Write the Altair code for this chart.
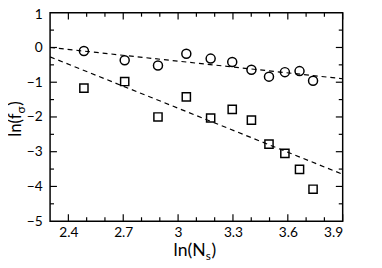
import altair as alt
import pandas as pd

# ---- data ----
ln_ns = [2.485, 2.708, 2.890, 3.045, 3.178, 3.296, 3.401, 3.497, 3.584, 3.664, 3.738]
circles = [-0.10, -0.37, -0.52, -0.18, -0.32, -0.42, -0.64, -0.84, -0.71, -0.68, -0.96]
squares = [-1.17, -0.98, -2.00, -1.42, -2.03, -1.78, -2.09, -2.78, -3.05, -3.51, -4.08]

fit_x = [2.3, 3.9]
fit_circle = [0.0, -0.90]
fit_square = [-0.27, -3.65]

x_major = [2.4, 2.7, 3.0, 3.3, 3.6, 3.9]
x_minor = [2.5, 2.6, 2.8, 2.9, 3.1, 3.2, 3.4, 3.5, 3.7, 3.8]
y_major = [-4, -3, -2, -1, 0]
y_labels = [-5, -4, -3, -2, -1, 0, 1]
y_minor = [-4.5, -3.5, -2.5, -1.5, -0.5, 0.5]

FONT = "Lato"
W, H = 299, 213

xs = alt.Scale(domain=[2.3, 3.9], nice=False, zero=False)
ys = alt.Scale(domain=[-5, 1], nice=False, zero=False)

pts = pd.DataFrame({"x": ln_ns, "c": circles, "s": squares})
fits = pd.DataFrame({"x": fit_x * 2,
                     "y": fit_circle + fit_square,
                     "g": ["circle"] * 2 + ["square"] * 2})

x_axis = alt.Axis(values=x_major, format="~g", title=None, ticks=False, domain=False,
                  grid=False, labelFont=FONT, labelFontSize=14, labelColor="black",
                  labelPadding=5, labelOverlap=False)
y_axis = alt.Axis(values=y_labels, format="d", title=None, ticks=False, domain=False,
                  grid=False, labelFont=FONT, labelFontSize=14, labelColor="black",
                  labelPadding=8, labelOverlap=False, labelFlush=False,
                  labelOffset={"condition": {"test": "datum.value == 1", "value": 2},
                               "value": 0})

def X(f):
    return alt.X(f, scale=xs, axis=x_axis)

def Y(f):
    return alt.Y(f, scale=ys, axis=y_axis)

lines = alt.Chart(fits).mark_line(color="black", strokeDash=[5, 4], strokeWidth=1.2).encode(
    x=X("x:Q"), y=Y("y:Q"), detail="g:N")

circ = alt.Chart(pts).mark_point(shape="circle", filled=False, color="black",
                                 size=85, strokeWidth=1.5, opacity=1).encode(
    x=X("x:Q"), y=Y("c:Q"))
sq = alt.Chart(pts).mark_point(shape="square", filled=False, color="black",
                               size=70, strokeWidth=1.5, opacity=1).encode(
    x=X("x:Q"), y=Y("s:Q"))

def xticks(vals, length):
    d = pd.DataFrame({"v": vals})
    b = alt.Chart(d).mark_rule(color="black", strokeWidth=1.2).encode(
        x=X("v:Q"), y=alt.value(H), y2=alt.value(H - length))
    t = alt.Chart(d).mark_rule(color="black", strokeWidth=1.2).encode(
        x=X("v:Q"), y=alt.value(0), y2=alt.value(length))
    return [b, t]

def yticks(vals, length):
    d = pd.DataFrame({"v": vals})
    l = alt.Chart(d).mark_rule(color="black", strokeWidth=1.2).encode(
        y=Y("v:Q"), x=alt.value(0), x2=alt.value(length))
    r = alt.Chart(d).mark_rule(color="black", strokeWidth=1.2).encode(
        y=Y("v:Q"), x=alt.value(W), x2=alt.value(W - length))
    return [l, r]

one = pd.DataFrame({"a": [0]})

def txt(s, x, y, size, align, angle=0):
    kw = dict(align=align, baseline="alphabetic", font=FONT, fontSize=size, color="black")
    if angle:
        kw["angle"] = angle
    return alt.Chart(one).mark_text(text=s, **kw).encode(x=alt.value(x), y=alt.value(y))

titles = [
    # y title ln(f_sigma), reading bottom to top
    txt("ln(f", -30, 103, 17, "right", 270),
    txt("σ", -26, 103, 12, "left", 270),
    txt(")", -30, 95, 17, "left", 270),
    # x title ln(N_s)
    txt("ln(N", 159, 249, 18, "right"),
    txt("s", 159, 253, 12, "left"),
    txt(")", 165, 249, 18, "left"),
]

layers = [lines, circ, sq] + xticks(x_major, 7) + xticks(x_minor, 4) \
    + yticks(y_major, 7) + yticks(y_minor, 4) + titles

chart = alt.layer(*layers).properties(
    width=W, height=H,
    autosize=alt.AutoSizeParams(type="none"),
    padding={"left": 43, "top": 2, "right": 32, "bottom": 45},
).configure_view(stroke="black", strokeWidth=1.5
).configure_axis(labelOverlap=False)

chart.save("out.html", embed_options={"renderer": "svg", "actions": False})
